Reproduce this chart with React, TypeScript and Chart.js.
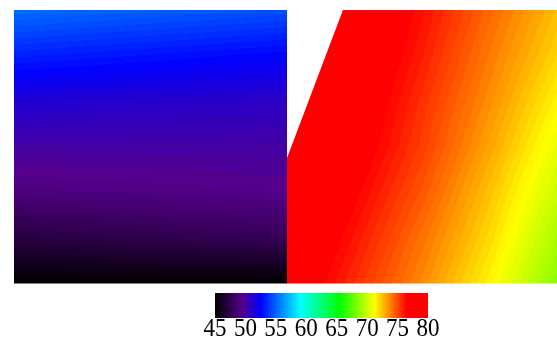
import { useEffect, useRef } from "react";
import { Chart, registerables } from "chart.js";

Chart.register(...registerables);

// Grid node positions (panel-local x, y from top=1 to bottom=0)
const gridCols = [0, 0.25, 0.5, 0.75, 1];
const gridRows = [1, 0.835, 0.67, 0.5, 0.335, 0.17, 0];

// Field values of the left panel (rows top -> bottom, columns left -> right)
const leftPanelValues = [
  [55.3, 55.1, 54.9, 54.7, 54.5],
  [53.3, 53.1, 52.9, 52.7, 52.5],
  [51.4, 51.3, 51.2, 51.1, 51.0],
  [50.1, 50.1, 50.1, 50.1, 50.1],
  [49.0, 49.1, 49.2, 49.3, 49.4],
  [47.1, 47.3, 47.5, 47.7, 47.9],
  [45.0, 45.0, 45.0, 45.0, 45.0],
];

// Field values of the right panel
const rightPanelValues = [
  [79.8, 78.0, 76.2, 74.3, 72.5],
  [79.5, 77.7, 75.9, 73.9, 72.0],
  [79.3, 77.4, 75.5, 73.5, 71.3],
  [79.0, 77.1, 75.2, 73.0, 70.6],
  [78.5, 76.6, 74.7, 72.4, 69.9],
  [78.0, 76.1, 74.1, 71.9, 69.2],
  [77.5, 75.6, 73.6, 71.3, 68.5],
];

// Missing-data region (no values) in the right panel
const gapX = [1, 1.205, 1];
const gapY = [1, 1, 0.459];

// Colour scale
const colorStops = [45, 49.5, 52.5, 59, 65.5, 71.2, 76.5, 80];
const stopColors = ["#000000", "#55008c", "#0000ff", "#00ffff", "#00ff00", "#ffff00", "#ff0000", "#ff0000"];
const colorbarTicks = [45, 50, 55, 60, 65, 70, 75, 80];
const colorLevels = 128;

function hexToRgb(h: string): number[] {
  return [parseInt(h.slice(1, 3), 16), parseInt(h.slice(3, 5), 16), parseInt(h.slice(5, 7), 16)];
}
const stopRgb = stopColors.map(hexToRgb);

function colorFor(v: number, quantize = true): number[] {
  const lo = colorStops[0];
  const hi = colorStops[colorStops.length - 1];
  let val = Math.min(hi, Math.max(lo, v));
  if (quantize) {
    let lvl = Math.floor(((val - lo) / (hi - lo)) * colorLevels);
    lvl = Math.min(colorLevels - 1, Math.max(0, lvl));
    val = lo + ((lvl + 0.5) * (hi - lo)) / colorLevels;
  }
  for (let k = 0; k < colorStops.length - 1; k++) {
    if (val >= colorStops[k] && val <= colorStops[k + 1]) {
      const t = (val - colorStops[k]) / (colorStops[k + 1] - colorStops[k] || 1);
      const a = stopRgb[k];
      const b = stopRgb[k + 1];
      return [a[0] + (b[0] - a[0]) * t, a[1] + (b[1] - a[1]) * t, a[2] + (b[2] - a[2]) * t];
    }
  }
  return stopRgb[stopRgb.length - 1];
}

function bilinear(vals: number[][], u: number, yv: number): number {
  const uu = Math.min(1, Math.max(0, u));
  const yy = Math.min(1, Math.max(0, yv));
  let i = 0;
  while (i < gridCols.length - 2 && uu > gridCols[i + 1]) i++;
  let j = 0;
  while (j < gridRows.length - 2 && yy < gridRows[j + 1]) j++;
  const s = (uu - gridCols[i]) / (gridCols[i + 1] - gridCols[i]);
  const t = (gridRows[j] - yy) / (gridRows[j] - gridRows[j + 1]);
  const a = vals[j][i] * (1 - s) + vals[j][i + 1] * s;
  const b = vals[j + 1][i] * (1 - s) + vals[j + 1][i + 1] * s;
  return a * (1 - t) + b * t;
}

const fieldPlugin = {
  id: "field",
  beforeDatasetsDraw(chart: any) {
    const { ctx, chartArea: ca, scales } = chart;
    const xs = scales.x;
    const ys = scales.y;
    const L = Math.floor(ca.left);
    const T = Math.floor(ca.top);
    const W = Math.ceil(ca.right) - L;
    const H = Math.ceil(ca.bottom) - T;
    const off = document.createElement("canvas");
    off.width = W;
    off.height = H;
    const octx = off.getContext("2d")!;
    const img = octx.createImageData(W, H);
    for (let j = 0; j < H; j++) {
      const dy = ys.getValueForPixel(T + j + 0.5);
      for (let i = 0; i < W; i++) {
        const dx = xs.getValueForPixel(L + i + 0.5);
        const left = dx < 1;
        const v = bilinear(left ? leftPanelValues : rightPanelValues, left ? dx : dx - 1, dy);
        const c = colorFor(v);
        const p = (j * W + i) * 4;
        img.data[p] = c[0];
        img.data[p + 1] = c[1];
        img.data[p + 2] = c[2];
        img.data[p + 3] = 255;
      }
    }
    octx.putImageData(img, 0, 0);
    const x0 = xs.getPixelForValue(0);
    const x1 = xs.getPixelForValue(1);
    const x2 = xs.getPixelForValue(2);
    const yt = ys.getPixelForValue(1);
    const yb = ys.getPixelForValue(0);
    ctx.save();
    ctx.beginPath();
    ctx.rect(x0, yt, x1 - x0, yb - yt);
    ctx.moveTo(xs.getPixelForValue(gapX[1]), ys.getPixelForValue(gapY[1]));
    ctx.lineTo(x2, yt);
    ctx.lineTo(x2, yb);
    ctx.lineTo(x1, yb);
    ctx.lineTo(xs.getPixelForValue(gapX[2]), ys.getPixelForValue(gapY[2]));
    ctx.closePath();
    ctx.clip();
    ctx.drawImage(off, L, T);
    ctx.restore();
  },
};

const LABEL_STRETCH = 1.13;

const colorbarPlugin = {
  id: "colorbar",
  beforeDraw(chart: any) {
    // stretch the tick labels vertically (tall, narrow serif digits)
    const { ctx, chartArea: ca } = chart;
    ctx.save();
    ctx.translate(0, ca.bottom);
    ctx.scale(1, LABEL_STRETCH);
    ctx.translate(0, -ca.bottom);
  },
  beforeDatasetsDraw(chart: any) {
    const { ctx, chartArea: ca, scales } = chart;
    ctx.restore();
    const xs = scales.x;
    const p0 = xs.getPixelForValue(colorStops[0]);
    const p1 = xs.getPixelForValue(colorStops[colorStops.length - 1]);
    const g = ctx.createLinearGradient(p0, 0, p1, 0);
    colorStops.forEach((v, k) => {
      g.addColorStop((v - colorStops[0]) / (colorStops[colorStops.length - 1] - colorStops[0]), stopColors[k]);
    });
    ctx.save();
    ctx.fillStyle = g;
    ctx.fillRect(p0, ca.top, p1 - p0, ca.bottom - ca.top);
    ctx.restore();
  },
};

export default function App() {
  const mainRef = useRef<HTMLCanvasElement>(null);
  const barRef = useRef<HTMLCanvasElement>(null);

  useEffect(() => {
    document.body.style.margin = "0";
    const points: { x: number; y: number }[] = [];
    gridRows.forEach((r) => {
      gridCols.forEach((c) => {
        points.push({ x: c, y: r });
        points.push({ x: 1 + c, y: r });
      });
    });
    const main = new Chart(mainRef.current!, {
      type: "scatter",
      data: { datasets: [{ data: points, pointRadius: 0, showLine: false }] },
      options: {
        responsive: false,
        animation: false,
        layout: { padding: { left: 0, right: 0, top: 0, bottom: 2.5 } },
        plugins: { legend: { display: false }, tooltip: { enabled: false } },
        scales: {
          x: { type: "linear", min: 0, max: 2, display: false },
          y: { type: "linear", min: 0, max: 1, display: false },
        },
      },
      plugins: [fieldPlugin],
    });

    const bar = new Chart(barRef.current!, {
      type: "scatter",
      data: { datasets: [{ data: [], pointRadius: 0 }] },
      options: {
        responsive: false,
        animation: false,
        layout: { padding: { left: 25, right: 27, top: 3, bottom: 0 } },
        plugins: { legend: { display: false }, tooltip: { enabled: false } },
        scales: {
          x: {
            type: "linear",
            min: colorbarTicks[0],
            max: colorbarTicks[colorbarTicks.length - 1],
            grid: { display: false, drawTicks: false },
            border: { display: false },
            afterBuildTicks: (s: any) => {
              s.ticks = colorbarTicks.map((v) => ({ value: v }));
            },
            afterFit: (s: any) => {
              s.height = 21;
            },
            ticks: {
              autoSkip: false,
              maxRotation: 0,
              padding: -3.5,
              color: "#000",
              font: { family: "'Liberation Serif', serif", size: 23 },
            },
          },
          y: { type: "linear", min: 0, max: 1, display: false },
        },
      },
      plugins: [colorbarPlugin],
    });

    return () => {
      main.destroy();
      bar.destroy();
    };
  }, []);

  return (
    <div style={{ position: "relative", width: 557, height: 339, overflow: "hidden" }}>
      <canvas
        ref={mainRef}
        width={546}
        height={276}
        style={{ position: "absolute", left: 14, top: 10, width: 546, height: 276 }}
      />
      <canvas
        ref={barRef}
        width={265}
        height={49}
        style={{ position: "absolute", left: 190, top: 290, width: 265, height: 49 }}
      />
    </div>
  );
}
